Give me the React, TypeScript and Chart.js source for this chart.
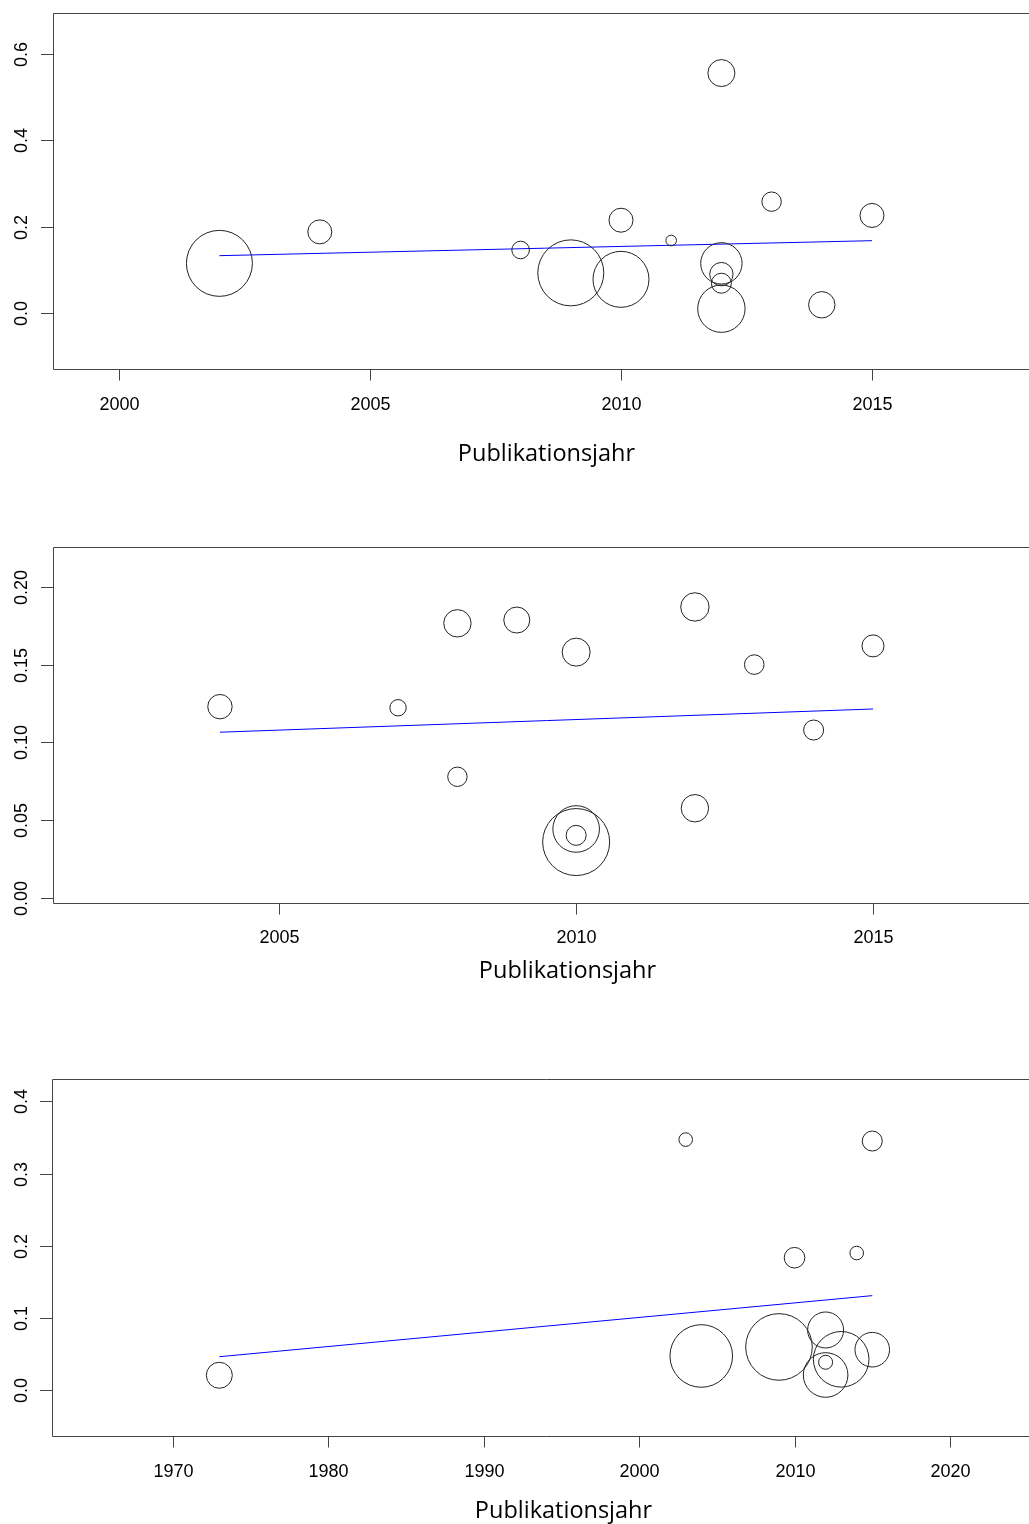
import React, { useEffect, useRef } from "react";
import { Chart, registerables } from "chart.js";
Chart.register(...registerables);

// ---------- Panel 1 ----------
const p1Years = [2002, 2004, 2008, 2009, 2010, 2010, 2011, 2012, 2012, 2012, 2012, 2012, 2013, 2014, 2015];
const p1Values = [0.115, 0.188, 0.146, 0.093, 0.078, 0.215, 0.168, 0.556, 0.115, 0.09, 0.069, 0.01, 0.258, 0.019, 0.226];
const p1Weights = [33, 12, 8.8, 33, 28, 12, 5.3, 13.5, 20.7, 11.7, 10, 23.7, 9.7, 13.2, 12];
const p1FitYears = [2002, 2015];
const p1FitValues = [0.1328, 0.1676];
const p1XTicks = [2000, 2005, 2010, 2015];
const p1YTicks = [0, 0.2, 0.4, 0.6];
const p1YLabels = ["0.0", "0.2", "0.4", "0.6"];

// ---------- Panel 2 ----------
const p2Years = [2004, 2007, 2008, 2008, 2009, 2010, 2010, 2010, 2010, 2012, 2012, 2013, 2014, 2015];
const p2Values = [0.123, 0.1223, 0.1765, 0.078, 0.1786, 0.158, 0.0445, 0.0404, 0.0361, 0.187, 0.0578, 0.15, 0.108, 0.162];
const p2Weights = [12.2, 8.2, 13.7, 9.7, 13, 14, 23.3, 10, 33.5, 14.2, 13.7, 9.8, 10, 11];
const p2FitYears = [2004, 2015];
const p2FitValues = [0.1066, 0.1215];
const p2XTicks = [2005, 2010, 2015];
const p2YTicks = [0, 0.05, 0.1, 0.15, 0.2];
const p2YLabels = ["0.00", "0.05", "0.10", "0.15", "0.20"];

// ---------- Panel 3 ----------
const p3Years = [1973, 2003, 2004, 2009, 2010, 2012, 2012, 2012, 2013, 2014, 2015, 2015];
const p3Values = [0.0208, 0.347, 0.0475, 0.06, 0.1835, 0.0835, 0.0388, 0.0212, 0.0429, 0.19, 0.345, 0.0562];
const p3Weights = [13, 6.8, 31.3, 33.3, 10.3, 18, 7, 22.3, 27.8, 6.8, 10, 17.3];
const p3FitYears = [1973, 2015];
const p3FitValues = [0.0465, 0.131];
const p3XTicks = [1970, 1980, 1990, 2000, 2010, 2020];
const p3YTicks = [0, 0.1, 0.2, 0.3, 0.4];
const p3YLabels = ["0.0", "0.1", "0.2", "0.3", "0.4"];

const xTitle = "Publikationsjahr";

type PanelCfg = {
  top: number;
  years: number[];
  values: number[];
  weights: number[];
  fitYears: number[];
  fitValues: number[];
  xTicks: number[];
  yTicks: number[];
  yLabels: string[];
  xMin: number;
  xMax: number;
  yMin: number;
  yMax: number;
  pad: { top: number; bottom: number; left: number; right: number };
  tickBaseline: number; // relative to canvas
  titleBaseline: number;
  titleX: number;
};

const CANVAS_W = 1040;
const CANVAS_H = 508;

const panels: PanelCfg[] = [
  {
    top: 0,
    years: p1Years, values: p1Values, weights: p1Weights,
    fitYears: p1FitYears, fitValues: p1FitValues,
    xTicks: p1XTicks, yTicks: p1YTicks, yLabels: p1YLabels,
    xMin: 1998.685, xMax: 2018.347, yMin: -0.1298, yMax: 0.6952,
    pad: { top: 13, bottom: 139, left: 53, right: 0 },
    tickBaseline: 410, titleBaseline: 461, titleX: 546.5,
  },
  {
    top: 508,
    years: p2Years, values: p2Values, weights: p2Weights,
    fitYears: p2FitYears, fitValues: p2FitValues,
    xTicks: p2XTicks, yTicks: p2YTicks, yLabels: p2YLabels,
    xMin: 2001.188, xMax: 2017.813, yMin: -0.00302, yMax: 0.22548,
    pad: { top: 39, bottom: 113, left: 53, right: 0 },
    tickBaseline: 943 - 508, titleBaseline: 978 - 508, titleX: 567.5,
  },
  {
    top: 1016,
    years: p3Years, values: p3Values, weights: p3Weights,
    fitYears: p3FitYears, fitValues: p3FitValues,
    xTicks: p3XTicks, yTicks: p3YTicks, yLabels: p3YLabels,
    xMin: 1962.236, xMax: 2025.79, yMin: -0.06325, yMax: 0.43087,
    pad: { top: 63, bottom: 88, left: 52, right: 0 },
    tickBaseline: 1477 - 1016, titleBaseline: 1518 - 1016, titleX: 563.5,
  },
];

function makeAxisPlugin(cfg: PanelCfg) {
  return {
    id: "rAxes",
    afterDraw(chart: any) {
      const ctx = chart.ctx as CanvasRenderingContext2D;
      const a = chart.chartArea;
      const xs = chart.scales.x;
      const ys = chart.scales.y;
      ctx.save();
      ctx.strokeStyle = "#444";
      ctx.lineWidth = 1;
      // box
      ctx.beginPath();
      ctx.rect(a.left + 0.5, a.top + 0.5, a.right - a.left, a.bottom - a.top);
      ctx.stroke();
      // x ticks
      ctx.fillStyle = "#000";
      ctx.font = "18px 'Liberation Sans', Arial, sans-serif";
      ctx.textAlign = "center";
      ctx.textBaseline = "alphabetic";
      cfg.xTicks.forEach((t) => {
        const px = Math.round(xs.getPixelForValue(t)) + 0.5;
        ctx.beginPath();
        ctx.moveTo(px, a.bottom);
        ctx.lineTo(px, a.bottom + 11.5);
        ctx.stroke();
        ctx.fillText(String(t), px, cfg.tickBaseline);
      });
      // y ticks
      cfg.yTicks.forEach((t, i) => {
        const py = Math.round(ys.getPixelForValue(t)) + 0.5;
        ctx.beginPath();
        ctx.moveTo(a.left - 12, py);
        ctx.lineTo(a.left + 0.5, py);
        ctx.stroke();
        ctx.save();
        ctx.translate(26.5, py);
        ctx.rotate(-Math.PI / 2);
        ctx.fillText(cfg.yLabels[i], 0, 0);
        ctx.restore();
      });
      // title
      ctx.font = "23.5px 'Open Sans', 'Noto Sans', sans-serif";
      ctx.fillStyle = "#000";
      ctx.fillText(xTitle, cfg.titleX, cfg.titleBaseline);
      ctx.restore();
    },
  };
}

function Panel({ cfg }: { cfg: PanelCfg }) {
  const ref = useRef<HTMLCanvasElement | null>(null);
  useEffect(() => {
    if (!ref.current) return;
    const bubbles = cfg.years.map((y, i) => ({ x: y, y: cfg.values[i], r: cfg.weights[i] }));
    const fit = cfg.fitYears.map((y, i) => ({ x: y, y: cfg.fitValues[i] }));
    const chart = new Chart(ref.current, {
      type: "bubble",
      data: {
        datasets: [
          {
            type: "bubble",
            data: bubbles,
            backgroundColor: "rgba(0,0,0,0)",
            borderColor: "#222",
            borderWidth: 1,
            hoverRadius: 0,
          } as any,
          {
            type: "line",
            data: fit,
            borderColor: "#0000ff",
            borderWidth: 1,
            pointRadius: 0,
            fill: false,
            tension: 0,
          } as any,
        ],
      },
      options: {
        animation: false,
        responsive: false,
        devicePixelRatio: 1,
        events: [],
        layout: { padding: cfg.pad, autoPadding: false },
        plugins: { legend: { display: false }, tooltip: { enabled: false } },
        scales: {
          x: { type: "linear", display: false, min: cfg.xMin, max: cfg.xMax },
          y: { type: "linear", display: false, min: cfg.yMin, max: cfg.yMax },
        },
      },
      plugins: [makeAxisPlugin(cfg)],
    } as any);
    return () => chart.destroy();
  }, [cfg]);
  return (
    <canvas
      ref={ref}
      width={CANVAS_W}
      height={CANVAS_H}
      style={{ position: "absolute", left: 0, top: cfg.top, width: CANVAS_W, height: CANVAS_H }}
    />
  );
}

export default function App() {
  return (
    <div
      style={{
        position: "absolute",
        left: 0,
        top: 0,
        width: 1029,
        height: 1524,
        overflow: "hidden",
        background: "#fff",
      }}
    >
      {panels.map((p, i) => (
        <Panel key={i} cfg={p} />
      ))}
    </div>
  );
}
